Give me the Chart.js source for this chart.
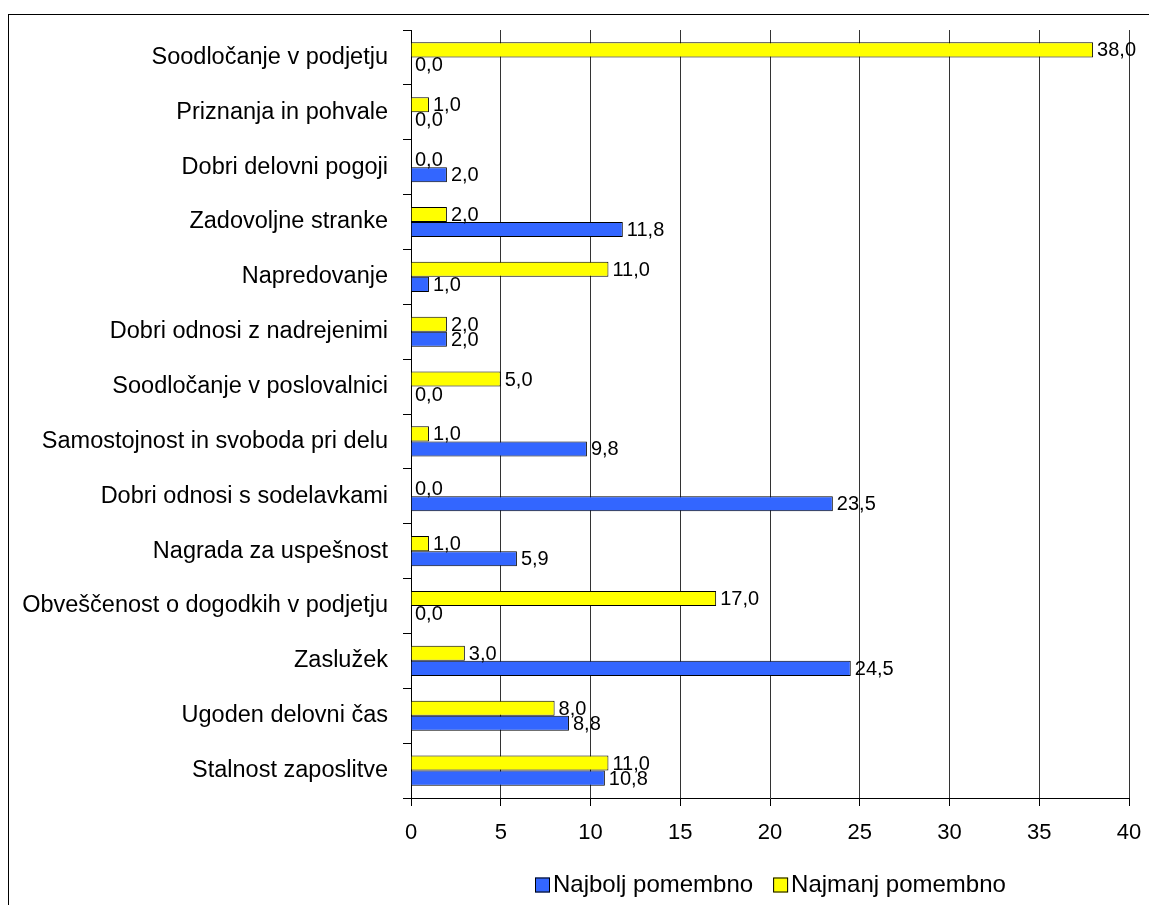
<!DOCTYPE html>
<html>
<head>
<meta charset="utf-8">
<script src="https://cdn.jsdelivr.net/npm/chart.js@4"></script>
<style>
  html, body { margin: 0; padding: 0; background: #fff; overflow: hidden; }
  #frame {
    position: absolute; left: 8px; top: 14px; width: 2000px; height: 2000px;
    border-left: 1px solid #000; border-top: 1px solid #000;
  }
  #wrap { position: absolute; left: 0; top: 0; width: 1149px; height: 905px; }
</style>
</head>
<body>
<div id="frame"></div>
<div id="wrap"><canvas id="chart"></canvas></div>
<script>
// motivation factors, top to bottom
const categories = [
  "Soodločanje v podjetju",
  "Priznanja in pohvale",
  "Dobri delovni pogoji",
  "Zadovoljne stranke",
  "Napredovanje",
  "Dobri odnosi z nadrejenimi",
  "Soodločanje v poslovalnici",
  "Samostojnost in svoboda pri delu",
  "Dobri odnosi s sodelavkami",
  "Nagrada za uspešnost",
  "Obveščenost o dogodkih v podjetju",
  "Zaslužek",
  "Ugoden delovni čas",
  "Stalnost zaposlitve",
]
const najbolj = [0.0, 0.0, 2.0, 11.8, 1.0, 2.0, 0.0, 9.8, 23.5, 5.9, 0.0, 24.5, 8.8, 10.8]
const najmanj = [38.0, 1.0, 0.0, 2.0, 11.0, 2.0, 5.0, 1.0, 0.0, 1.0, 17.0, 3.0, 8.0, 11.0]
const xTicks = [0, 5, 10, 15, 20, 25, 30, 35, 40]

const FONT = "'Liberation Sans', Arial, sans-serif"
const fmt = v => v.toFixed(1).replace(".", ",")

// value labels just past the end of each bar
const valueLabels = {
  id: "valueLabels",
  afterDatasetsDraw(chart) {
    const ctx = chart.ctx
    ctx.save()
    ctx.font = `20px ${FONT}`
    ctx.fillStyle = "#000"
    ctx.textAlign = "left"
    ctx.textBaseline = "middle"
    chart.data.datasets.forEach((ds, di) => {
      chart.getDatasetMeta(di).data.forEach((bar, i) => {
        ctx.fillText(fmt(ds.data[i]), bar.x + 4, bar.y + 1)
      })
    })
    ctx.restore()
  },
}

// bottom legend: Najbolj first, then Najmanj, tight box/text gap
const bottomLegend = {
  id: "bottomLegend",
  afterDraw(chart) {
    const ctx = chart.ctx
    const y = 885
    const box = 15
    ctx.save()
    ctx.font = `24px ${FONT}`
    ctx.textBaseline = "middle"
    ctx.textAlign = "left"
    let x = 535
    chart.data.datasets.slice().reverse().forEach(ds => {
      ctx.fillStyle = ds.backgroundColor
      ctx.fillRect(x, y - box / 2, box, box)
      ctx.strokeStyle = "#000"
      ctx.lineWidth = 1
      ctx.strokeRect(x + 0.5, y - box / 2 + 0.5, box - 1, box - 1)
      ctx.fillStyle = "#000"
      ctx.fillText(ds.label, x + box + 3, y)
      x += box + 3 + ctx.measureText(ds.label).width + 20
    })
    ctx.restore()
  },
}

new Chart(document.getElementById("chart"), {
  type: "bar",
  data: {
    labels: categories,
    datasets: [
      {
        label: "Najmanj pomembno",
        data: najmanj,
        backgroundColor: "#FFFF00",
        borderColor: "#000",
        borderWidth: 1,
      },
      {
        label: "Najbolj pomembno",
        data: najbolj,
        backgroundColor: "#3366FF",
        borderColor: "#000",
        borderWidth: 1,
      },
    ],
  },
  options: {
    indexAxis: "y",
    responsive: true,
    maintainAspectRatio: false,
    animation: false,
    categoryPercentage: 0.55,
    barPercentage: 1.0,
    layout: { padding: { top: 30, right: 20, left: 0, bottom: 0 } },
    plugins: {
      tooltip: { enabled: false },
      legend: { display: false },
    },
    scales: {
      x: {
        min: 0,
        max: 40,
        afterBuildTicks: (scale) => { scale.ticks = xTicks.map(v => ({ value: v })) },
        afterFit: (scale) => {
          scale.height = 107
          scale.paddingLeft = 0
          scale.paddingRight = 0
        },
        grid: { color: "#333", tickColor: "#000", tickLength: 8 },
        border: { color: "#000" },
        ticks: { color: "#000", padding: 14, font: { family: FONT, size: 22 } },
      },
      y: {
        afterFit: (scale) => { scale.width = 411 },
        grid: { drawOnChartArea: false, tickColor: "#000", tickLength: 8 },
        border: { color: "#000" },
        ticks: { color: "#000", padding: 15, font: { family: FONT, size: 23.5 } },
      },
    },
  },
  plugins: [valueLabels, bottomLegend],
})
</script>
</body>
</html>
